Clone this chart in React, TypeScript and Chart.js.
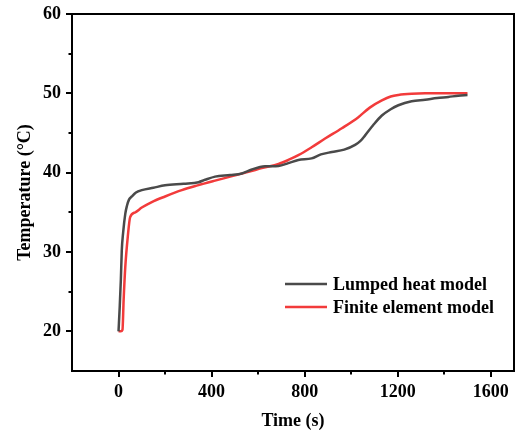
import React, { useEffect, useRef } from "react";
import { Chart, registerables } from "chart.js";

Chart.register(...registerables);

// ---- Data ----
const lumpedTime = [0, 5, 10, 14, 20, 29, 36, 45, 57, 75, 100, 150, 200, 280, 344, 372, 415, 480, 530, 573, 630, 688, 730, 773, 830, 870, 917, 970, 1017, 1040, 1060, 1095, 1132, 1170, 1203, 1260, 1318, 1370, 1418, 1460, 1500];
const lumpedTemp = [20, 23, 26.5, 30.2, 32.5, 34.8, 35.8, 36.6, 37.0, 37.5, 37.8, 38.1, 38.4, 38.6, 38.8, 39.1, 39.5, 39.7, 39.9, 40.4, 40.8, 40.85, 41.2, 41.6, 41.8, 42.3, 42.6, 42.9, 43.5, 44.0, 44.7, 46.0, 47.2, 48.0, 48.5, 49.0, 49.2, 49.4, 49.55, 49.7, 49.8];

const feTime = [0, 10, 17, 22, 29, 40, 50, 72, 100, 143, 200, 272, 340, 415, 480, 559, 620, 688, 730, 773, 830, 888, 960, 1031, 1080, 1132, 1170, 1203, 1260, 1318, 1400, 1500];
const feTemp = [20, 20, 20.2, 24, 28.1, 32, 34.4, 35.0, 35.6, 36.3, 37.0, 37.8, 38.4, 39.0, 39.5, 40.1, 40.6, 41.1, 41.6, 42.2, 43.2, 44.3, 45.6, 47.0, 48.2, 49.1, 49.6, 49.8, 49.95, 50.0, 50.0, 50.0];

const seriesNames = ["Lumped heat model", "Finite element model"];
const seriesColors = ["#4a4a4a", "#f23b3b"];

const xMajorTicks = [0, 400, 800, 1200, 1600];
const xMinorTicks = [200, 600, 1000, 1400];
const yMajorTicks = [20, 30, 40, 50, 60];
const yMinorTicks = [25, 35, 45, 55];

const xTitle = "Time (s)";
const yTitle = "Temperature (°C)";

const FONT = "'Liberation Serif', 'Times New Roman', serif";

const framePlugin = {
  id: "frameTicks",
  afterDraw(chart: any) {
    const { ctx, chartArea, scales } = chart;
    const { left, right, top, bottom } = chartArea;
    ctx.save();
    ctx.strokeStyle = "#000";
    ctx.lineWidth = 2;
    ctx.strokeRect(left, top, right - left, bottom - top);
    ctx.lineWidth = 2;
    ctx.beginPath();
    xMajorTicks.forEach((v) => {
      const px = Math.round(scales.x.getPixelForValue(v));
      ctx.moveTo(px, bottom);
      ctx.lineTo(px, bottom + 6);
    });
    xMinorTicks.forEach((v) => {
      const px = Math.round(scales.x.getPixelForValue(v));
      ctx.moveTo(px, bottom);
      ctx.lineTo(px, bottom + 3.5);
    });
    yMajorTicks.forEach((v) => {
      const py = Math.round(scales.y.getPixelForValue(v));
      ctx.moveTo(left, py);
      ctx.lineTo(left - 6, py);
    });
    yMinorTicks.forEach((v) => {
      const py = Math.round(scales.y.getPixelForValue(v));
      ctx.moveTo(left, py);
      ctx.lineTo(left - 3.5, py);
    });
    ctx.stroke();

    // legend (bottom-right inside the plot)
    const lx0 = right - 229;
    const lx1 = right - 187;
    const tx = right - 181;
    const rows = [bottom - 87, bottom - 64];
    ctx.font = `bold 18px ${FONT}`;
    ctx.textBaseline = "middle";
    ctx.textAlign = "left";
    seriesNames.forEach((name, i) => {
      ctx.strokeStyle = seriesColors[i];
      ctx.lineWidth = 2.5;
      ctx.beginPath();
      ctx.moveTo(lx0, rows[i]);
      ctx.lineTo(lx1, rows[i]);
      ctx.stroke();
      ctx.fillStyle = "#000";
      ctx.fillText(name, tx, rows[i] + 1);
    });
    ctx.restore();
  },
};

export default function App() {
  const ref = useRef<HTMLCanvasElement | null>(null);

  useEffect(() => {
    if (!ref.current) return;
    const chart = new Chart(ref.current, {
      type: "line",
      data: {
        datasets: [
          {
            label: seriesNames[0],
            data: lumpedTime.map((t, i) => ({ x: t, y: lumpedTemp[i] })),
            borderColor: seriesColors[0],
            borderWidth: 2.5,
            pointRadius: 0,
            fill: false,
            cubicInterpolationMode: "monotone",
          },
          {
            label: seriesNames[1],
            data: feTime.map((t, i) => ({ x: t, y: feTemp[i] })),
            borderColor: seriesColors[1],
            borderWidth: 2.5,
            pointRadius: 0,
            fill: false,
            cubicInterpolationMode: "monotone",
          },
        ],
      },
      options: {
        responsive: false,
        animation: false,
        layout: { padding: { top: 14, right: 3, left: 0, bottom: 0 } },
        plugins: {
          legend: { display: false },
          tooltip: { enabled: false },
        },
        scales: {
          x: {
            type: "linear",
            min: -200,
            max: 1700,
            grid: { display: true, drawOnChartArea: false, drawTicks: false, color: "rgba(0,0,0,0)" },
            border: { display: false },
            afterBuildTicks: (s: any) => {
              s.ticks = xMajorTicks.map((v) => ({ value: v }));
            },
            afterFit: (s: any) => {
              s.height = 63;
              s.paddingLeft = 0;
              s.paddingRight = 0;
              s.paddingTop = 0;
              s.paddingBottom = 0;
            },
            ticks: {
              color: "#000",
              padding: 11,
              maxRotation: 0,
              callback: (v: any) => String(v),
              font: { family: FONT, size: 18, weight: "bold" },
            },
            title: {
              display: true,
              text: xTitle,
              color: "#000",
              padding: { top: 0, bottom: 2 },
              font: { family: FONT, size: 18, weight: "bold" },
            },
          },
          y: {
            type: "linear",
            min: 15,
            max: 60,
            grid: { display: true, drawOnChartArea: false, drawTicks: false, color: "rgba(0,0,0,0)" },
            border: { display: false },
            afterBuildTicks: (s: any) => {
              s.ticks = yMajorTicks.map((v) => ({ value: v }));
            },
            afterFit: (s: any) => {
              s.width = 72;
              s.paddingLeft = 0;
              s.paddingRight = 0;
              s.paddingTop = 0;
              s.paddingBottom = 0;
            },
            ticks: {
              color: "#000",
              padding: 11,
              callback: (v: any) => String(v),
              font: { family: FONT, size: 18, weight: "bold" },
            },
            title: {
              display: true,
              text: yTitle,
              color: "#000",
              padding: { top: 15, bottom: 0 },
              font: { family: FONT, size: 18, weight: "bold" },
            },
          },
        },
      },
      plugins: [framePlugin],
    } as any);
    return () => chart.destroy();
  }, []);

  return (
    <div style={{ position: "fixed", left: 0, top: 0, width: 517, height: 434, background: "#fff" }}>
      <canvas ref={ref} width={517} height={434} style={{ display: "block" }} />
    </div>
  );
}
